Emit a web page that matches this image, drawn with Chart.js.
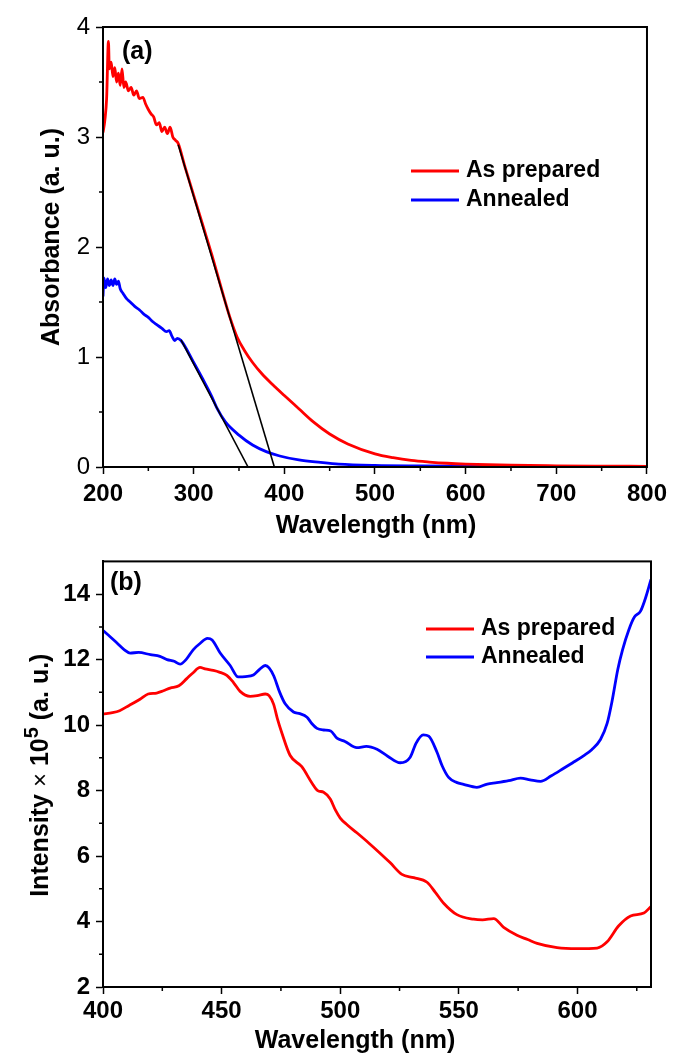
<!DOCTYPE html>
<html>
<head>
<meta charset="utf-8">
<script src="https://cdn.jsdelivr.net/npm/chart.js@4.4.0/dist/chart.umd.min.js"></script>
<style>
  html, body { margin: 0; padding: 0; background: #fff; }
  #wrap { position: relative; width: 673px; height: 1056px; }
  .box { position: absolute; left: 0; width: 673px; }
  #boxA { top: 0; height: 541px; }
  #boxB { top: 541px; height: 515px; }
</style>
</head>
<body>
<div id="wrap">
  <div class="box" id="boxA"><canvas id="absChart"></canvas></div>
  <div class="box" id="boxB"><canvas id="plChart"></canvas></div>
</div>
<script>
var FONT = '"Liberation Sans", Arial, Helvetica, sans-serif';

var seriesNames = ['As prepared', 'Annealed'];
var seriesColors = ['#ff0000', '#0000ff'];

// (a) absorbance spectra
var absRedWl = [200, 202, 204, 206, 207, 209, 211, 213, 215, 217, 219, 221, 223, 225, 228, 231, 234, 237, 240, 244, 247, 250, 253, 256, 259, 262, 265, 268, 271, 274, 277, 280, 283,
  290, 300, 310, 320, 330, 340, 348, 356, 365, 375, 387, 400, 416, 432, 450, 470, 500, 520, 540, 560, 580, 600, 650, 700, 750, 800];
var absRed = [3.04, 3.15, 3.35, 3.87, 3.62, 3.68, 3.55, 3.63, 3.50, 3.58, 3.47, 3.62, 3.45, 3.50, 3.42, 3.45, 3.38, 3.42, 3.35, 3.36, 3.30, 3.25, 3.21, 3.18, 3.11, 3.13, 3.05, 3.09, 3.03, 3.09, 3.00, 2.97, 2.94,
  2.74, 2.47, 2.20, 1.93, 1.64, 1.36, 1.18, 1.06, 0.95, 0.85, 0.75, 0.65, 0.53, 0.41, 0.30, 0.21, 0.12, 0.085, 0.06, 0.045, 0.034, 0.027, 0.016, 0.011, 0.008, 0.006];

var absBlueWl = [200, 201, 203, 205, 207, 209, 211, 213, 215, 217, 219, 222, 226, 230, 235, 240, 245, 250, 255, 260, 265, 270, 273, 276, 279, 282, 286,
  300, 310, 320, 326, 335, 350, 365, 380, 395, 416, 440, 460, 500, 550, 600, 700, 800];
var absBlue = [1.55, 1.72, 1.63, 1.71, 1.65, 1.70, 1.65, 1.71, 1.66, 1.69, 1.62, 1.58, 1.53, 1.50, 1.46, 1.43, 1.39, 1.36, 1.32, 1.29, 1.26, 1.23, 1.24, 1.19, 1.15, 1.17, 1.15,
  0.95, 0.80, 0.64, 0.53, 0.41, 0.29, 0.20, 0.14, 0.10, 0.064, 0.042, 0.027, 0.015, 0.010, 0.007, 0.005, 0.004];

// linear fits used to read the band edge
var fitRedWl = [283, 389];
var fitRed = [2.93, 0];
var fitBlueWl = [286, 360];
var fitBlue = [1.155, 0];

// (b) photoluminescence spectra (intensity x 10^5)
var plRedWl = [400, 404, 407, 411, 415.6, 419, 422.6, 425.5, 428.3, 432, 435.3, 438, 440.9, 443, 446.5, 449, 452.2, 455, 457.8, 462, 465, 468.4, 470, 471.9, 473.5, 475.4, 478.9,
  483.8, 488, 490.5, 493, 495.8, 498, 500, 503, 507, 512, 516.9, 521, 526, 531, 536.6, 540, 543.6, 549.2, 556.2, 560, 564.7, 568.9, 574.5, 579, 583, 591.4, 599.9, 608.3,
  612.5, 617.4, 622.4, 628, 631];
var plRed = [10.34, 10.38, 10.44, 10.6, 10.79, 10.95, 10.98, 11.05, 11.13, 11.2, 11.42, 11.6, 11.76, 11.72, 11.67, 11.62, 11.52, 11.3, 11.03, 10.88, 10.9, 10.95, 10.9, 10.64, 10.2, 9.76, 9.07,
  8.73, 8.24, 8.0, 7.95, 7.74, 7.4, 7.16, 6.95, 6.71, 6.4, 6.08, 5.8, 5.44, 5.34, 5.2, 4.9, 4.56, 4.21, 4.07, 4.05, 4.09, 3.82, 3.58, 3.45, 3.33, 3.2, 3.17, 3.19,
  3.38, 3.87, 4.17, 4.26, 4.46];

var plBlueWl = [400, 403, 406, 409, 411.4, 415, 420, 424, 427, 430, 432.5, 435, 438, 441, 444, 446, 449.4, 453.6, 457, 460, 463.4, 466, 468.4, 470, 472, 474.5, 476.8, 480.3, 483,
  486, 488, 490.2, 493, 496, 498.6, 502, 507, 511, 515.5, 520, 525.3, 529.5, 532, 535, 537.3, 540.8, 543, 545.7, 549, 552, 557.6, 562, 566, 571, 576, 580, 584.4, 589,
  594.2, 598, 602.7, 606, 609.7, 612.5, 614.5, 617, 619, 621.6, 624, 626.6, 629, 631];
var plBlue = [12.89, 12.7, 12.5, 12.3, 12.2, 12.22, 12.15, 12.1, 12.0, 11.95, 11.86, 12.0, 12.3, 12.5, 12.65, 12.6, 12.2, 11.82, 11.47, 11.48, 11.53, 11.7, 11.82, 11.75, 11.5, 11.0, 10.65, 10.4, 10.35,
  10.24, 10.05, 9.9, 9.85, 9.82, 9.6, 9.5, 9.31, 9.35, 9.26, 9.05, 8.85, 9.02, 9.45, 9.7, 9.66, 9.17, 8.75, 8.4, 8.25, 8.19, 8.1, 8.2, 8.24, 8.3, 8.38, 8.33, 8.28, 8.45,
  8.68, 8.85, 9.07, 9.25, 9.56, 10.05, 10.7, 11.7, 12.3, 12.9, 13.3, 13.48, 13.95, 14.45];

// minor tick values
var absMinorX = [250, 350, 450, 550, 650, 750];
var absMinorY = [0.5, 1.5, 2.5, 3.5];
var plMinorX = [425, 475, 525, 575, 625];
var plMinorY = [3, 5, 7, 9, 11, 13];

function pts(xs, ys) {
  return xs.map(function (x, i) { return { x: x, y: ys[i] }; });
}

function curve(i, xs, ys) {
  return {
    label: seriesNames[i], data: pts(xs, ys), borderColor: seriesColors[i],
    borderWidth: 2.8, pointRadius: 0, cubicInterpolationMode: 'monotone', order: 1
  };
}

function fitLine(xs, ys) {
  return {
    label: '', data: pts(xs, ys), borderColor: '#000', borderWidth: 1.6,
    pointRadius: 0, tension: 0, order: 0
  };
}

// frame, minor ticks, titles, panel tag and legend
var decor = {
  id: 'decor',
  afterDraw: function (chart, args, o) {
    var ctx = chart.ctx, a = chart.chartArea;
    var sx = chart.scales.x, sy = chart.scales.y;
    ctx.save();
    ctx.strokeStyle = '#000';
    ctx.lineWidth = 2;
    ctx.strokeRect(a.left, a.top, a.right - a.left, a.bottom - a.top);

    ctx.lineWidth = 1.5;
    ctx.beginPath();
    o.minorX.forEach(function (v) {
      var p = sx.getPixelForValue(v);
      ctx.moveTo(p, a.bottom); ctx.lineTo(p, a.bottom + 4);
    });
    o.minorY.forEach(function (v) {
      var p = sy.getPixelForValue(v);
      ctx.moveTo(a.left, p); ctx.lineTo(a.left - 4, p);
    });
    ctx.stroke();

    ctx.fillStyle = '#000';
    ctx.textBaseline = 'middle';
    ctx.textAlign = 'left';
    ctx.font = 'bold 25px ' + FONT;
    ctx.fillText(o.tag, a.left + o.tagDx, a.top + o.tagDy);

    ctx.textAlign = 'center';
    ctx.fillText('Wavelength (nm)', o.xTitleX, a.bottom + o.xTitleDy);

    // legend from the labelled datasets
    ctx.textAlign = 'left';
    ctx.font = 'bold 23px ' + FONT;
    chart.data.datasets.filter(function (d) { return d.label; }).forEach(function (d, i) {
      var y = o.legY + i * o.legGap;
      ctx.strokeStyle = d.borderColor;
      ctx.lineWidth = 2.8;
      ctx.beginPath();
      ctx.moveTo(o.legX, y); ctx.lineTo(o.legX + 48, y);
      ctx.stroke();
      ctx.fillText(d.label, o.legX + 55, y);
    });

    // rotated y title, pieces may be superscript
    ctx.translate(o.yTitleX, (a.top + a.bottom) / 2 + o.yTitleDy);
    ctx.rotate(-Math.PI / 2);
    var total = 0;
    o.yTitle.forEach(function (p) { ctx.font = p.font; total += ctx.measureText(p.t).width; });
    var x = -total / 2;
    o.yTitle.forEach(function (p) {
      ctx.font = p.font;
      ctx.fillText(p.t, x, -(p.rise || 0));
      x += ctx.measureText(p.t).width;
    });
    ctx.restore();
  }
};

function axisX(min, max, step, pad, h) {
  return {
    type: 'linear', min: min, max: max,
    border: { display: true, color: '#000', width: 2 },
    grid: { drawOnChartArea: false, drawTicks: true, tickLength: 7, tickColor: '#000', tickWidth: 1.5 },
    ticks: { stepSize: step, includeBounds: false, color: '#000', padding: pad, maxRotation: 0,
      font: { family: FONT, size: 24, weight: 'bold' } },
    afterFit: function (s) { s.height = h; }
  };
}

function axisY(min, max, step, weight) {
  return {
    type: 'linear', min: min, max: max,
    border: { display: true, color: '#000', width: 2 },
    grid: { drawOnChartArea: false, drawTicks: true, tickLength: 7, tickColor: '#000', tickWidth: 1.5 },
    ticks: { stepSize: step, includeBounds: false, color: '#000', padding: 6,
      font: { family: FONT, size: 24, weight: weight } },
    afterFit: function (s) { s.width = 103; }
  };
}

function baseOptions(scales, pad, decorOpts) {
  return {
    responsive: true, maintainAspectRatio: false, animation: false, devicePixelRatio: 1,
    layout: { padding: pad },
    scales: scales,
    plugins: { legend: { display: false }, tooltip: { enabled: false }, decor: decorOpts }
  };
}

new Chart(document.getElementById('absChart'), {
  type: 'line',
  data: {
    datasets: [
      fitLine(fitRedWl, fitRed),
      fitLine(fitBlueWl, fitBlue),
      curve(0, absRedWl, absRed),
      curve(1, absBlueWl, absBlue)
    ]
  },
  options: baseOptions(
    { x: axisX(200, 800, 100, 6, 74), y: axisY(0, 4, 1, 'normal') },
    { top: 27, right: 23, bottom: 0, left: 0 },
    {
      minorX: absMinorX, minorY: absMinorY,
      tag: '(a)', tagDx: 19, tagDy: 25,
      xTitleX: 376, xTitleDy: 59,
      legX: 411, legY: 171, legGap: 29,
      yTitleX: 52, yTitleDy: -10,
      yTitle: [{ t: 'Absorbance (a. u.)', font: 'bold 25px ' + FONT }]
    }
  ),
  plugins: [decor]
});

new Chart(document.getElementById('plChart'), {
  type: 'line',
  data: {
    datasets: [
      curve(0, plRedWl, plRed),
      curve(1, plBlueWl, plBlue)
    ]
  },
  options: baseOptions(
    { x: axisX(400, 631, 50, 3, 69), y: axisY(2, 15, 2, 'bold') },
    { top: 4, right: 22, bottom: 0, left: 0 },
    {
      minorX: plMinorX, minorY: plMinorY,
      tag: '(b)', tagDx: 7, tagDy: 22,
      xTitleX: 355, xTitleDy: 54,
      legX: 426, legY: 88, legGap: 28,
      yTitleX: 41, yTitleDy: 1,
      yTitle: [
        { t: 'Intensity ', font: 'bold 25px ' + FONT },
        { t: '\u00d7', font: '24px ' + FONT },
        { t: ' 10', font: 'bold 25px ' + FONT },
        { t: '5', font: 'bold 20px ' + FONT, rise: 9 },
        { t: ' (a. u.)', font: 'bold 25px ' + FONT }
      ]
    }
  ),
  plugins: [decor]
});
</script>
</body>
</html>
